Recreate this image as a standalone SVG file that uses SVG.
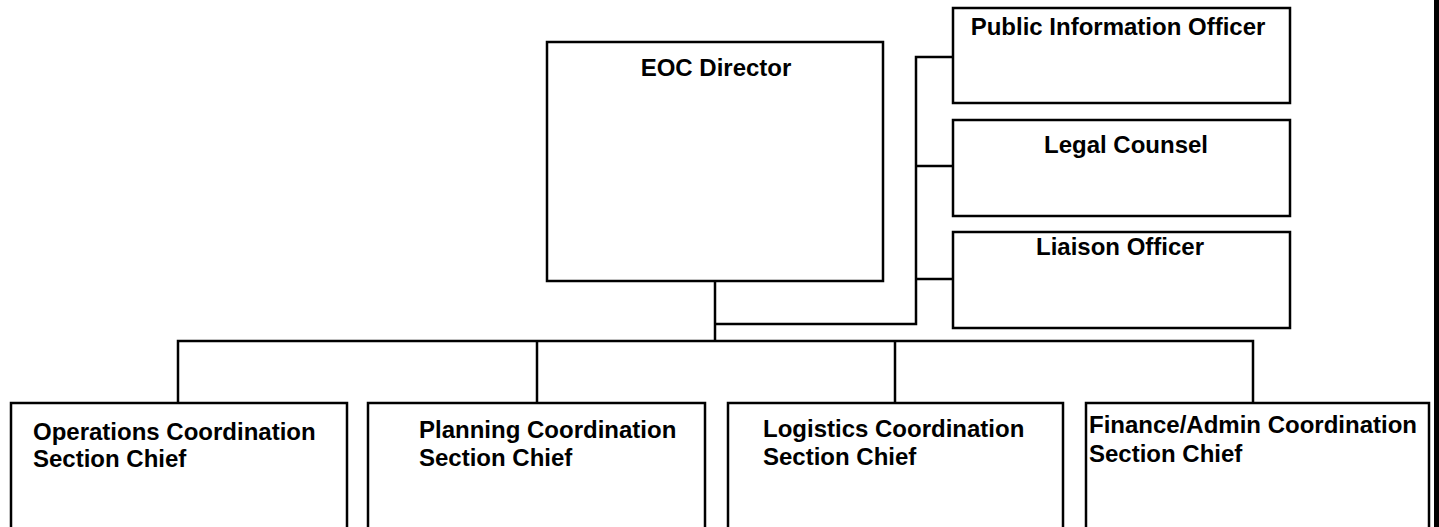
<svg xmlns="http://www.w3.org/2000/svg" width="1439" height="527" viewBox="0 0 1439 527">
<style>
.box{fill:#fff;stroke:#000;stroke-width:2.5}
.ln{fill:none;stroke:#000;stroke-width:2.5}
.t{font-family:"Liberation Sans",Arial,sans-serif;font-weight:bold;font-size:24px;fill:#000}
.m{text-anchor:middle}
</style>
<rect x="0" y="0" width="1439" height="527" fill="#fff"/>
<g id="connectors">
<path class="ln" d="M715 281 V341"/>
<path class="ln" d="M715 324 H916 V57 H953"/>
<path class="ln" d="M916 166 H953"/>
<path class="ln" d="M916 279 H953"/>
<path class="ln" d="M178 403 V341 H1253 V403"/>
<path class="ln" d="M537 341 V403"/>
<path class="ln" d="M895 341 V403"/>
</g>
<g id="eoc-director">
<rect class="box" x="547" y="42" width="336" height="239"/>
<text class="t m" x="716" y="76">EOC Director</text>
</g>
<g id="public-information-officer">
<rect class="box" x="953" y="8" width="337" height="95"/>
<text class="t m" x="1118" y="35">Public Information Officer</text>
</g>
<g id="legal-counsel">
<rect class="box" x="953" y="120" width="337" height="96"/>
<text class="t m" x="1126" y="153">Legal Counsel</text>
</g>
<g id="liaison-officer">
<rect class="box" x="953" y="232" width="337" height="96"/>
<text class="t m" x="1120" y="255">Liaison Officer</text>
</g>
<g id="operations">
<rect class="box" x="11" y="403" width="336" height="140"/>
<text class="t" x="33" y="440">Operations Coordination</text>
<text class="t" x="33" y="467">Section Chief</text>
</g>
<g id="planning">
<rect class="box" x="368" y="403" width="337" height="140"/>
<text class="t" x="419" y="438">Planning Coordination</text>
<text class="t" x="419" y="466">Section Chief</text>
</g>
<g id="logistics">
<rect class="box" x="728" y="403" width="335" height="140"/>
<text class="t" x="763" y="437">Logistics Coordination</text>
<text class="t" x="763" y="465">Section Chief</text>
</g>
<g id="finance-admin">
<rect class="box" x="1086" y="403" width="343" height="140"/>
<text class="t" x="1089" y="433">Finance/Admin Coordination</text>
<text class="t" x="1089" y="462">Section Chief</text>
</g>
<rect x="1434" y="0" width="5" height="527" fill="#000"/>
</svg>
